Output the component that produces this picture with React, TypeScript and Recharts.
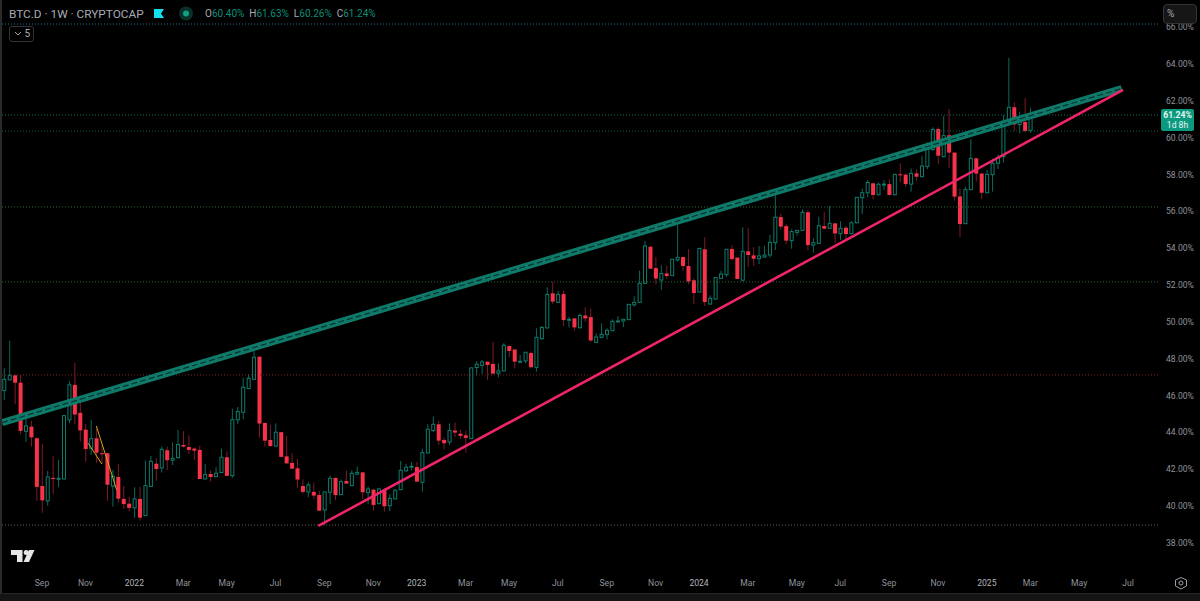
import React from "react";
import { ComposedChart, Bar, XAxis, YAxis, ReferenceLine } from "recharts";

const highs = [
  47.48,48.97,47.12,47.12,45.07,44.62,43.73,43.37,41.91,42.70,
  42.50,44.95,46.78,47.77,45.76,44.46,44.68,44.22,43.32,42.87,
  41.96,42.30,41.09,40.51,41.02,41.04,42.47,42.72,42.59,43.23,
  43.23,43.46,44.13,44.06,43.84,43.19,43.28,42.29,41.93,42.11,
  43.12,42.97,45.29,45.38,46.96,47.17,48.48,48.11,44.53,44.40,
  44.49,44.01,43.81,42.87,42.56,41.45,41.29,41.27,40.82,40.77,
  41.65,41.54,41.45,41.93,41.94,42.14,41.85,41.06,40.93,41.00,
  40.98,40.64,40.91,42.45,42.29,42.38,42.40,43.12,44.44,44.87,
  44.62,43.72,44.49,44.53,44.15,44.10,47.52,47.88,47.93,47.84,
  48.91,47.75,48.84,48.71,48.51,48.21,48.35,48.39,49.65,49.78,
  51.87,52.18,51.69,51.69,50.28,50.19,50.46,50.79,50.72,49.38,
  49.92,49.65,50.14,50.32,50.14,50.97,51.39,52.78,54.39,54.10,
  53.52,53.07,53.05,53.40,55.26,53.54,53.94,52.36,53.99,54.59,
  51.44,52.42,52.78,53.94,54.16,53.50,55.13,55.10,54.05,54.12,
  54.14,54.72,57.00,55.86,55.31,55.02,54.99,56.11,56.07,54.55,
  55.71,55.96,56.29,55.35,55.47,55.20,55.47,56.78,57.23,57.70,
  57.56,57.57,57.70,57.74,58.03,58.61,58.06,58.33,58.28,59.02,
  59.75,60.56,60.56,61.18,61.56,59.20,57.25,57.34,59.91,58.90,
  58.10,58.24,58.86,59.09,61.23,64.33,61.92,61.41,62.14,61.63,
];
const lows = [
  45.76,46.85,45.53,43.90,43.48,43.23,40.28,39.64,40.02,40.66,
  41.04,41.45,44.50,44.46,43.52,42.41,42.78,42.34,42.29,40.28,
  39.97,40.19,39.84,39.72,39.37,39.21,39.46,41.04,41.38,41.82,
  41.96,42.23,42.59,43.19,42.83,42.49,41.47,41.47,41.33,41.56,
  41.78,41.64,41.53,44.46,44.71,46.36,46.85,43.72,43.23,43.23,
  43.23,42.67,42.27,42.01,41.00,40.66,40.48,40.40,39.72,38.97,
  40.11,40.33,40.62,41.20,41.09,41.71,40.39,40.11,39.75,40.11,
  39.70,39.72,40.37,40.87,41.87,41.93,41.31,40.78,42.87,44.01,
  43.32,43.08,43.32,43.75,43.64,42.90,43.64,47.07,47.17,46.85,
  47.17,46.99,47.32,48.08,47.48,47.81,47.75,47.48,47.30,49.02,
  49.65,50.97,51.04,49.78,49.70,49.52,49.65,50.01,48.92,48.87,
  49.11,49.05,49.50,50.01,49.72,50.10,50.83,51.04,52.09,52.87,
  52.04,51.73,52.33,52.49,53.27,52.78,52.04,50.97,51.60,50.86,
  50.93,51.21,52.33,52.45,53.32,52.31,52.24,52.98,53.05,53.14,
  53.47,53.50,53.90,54.99,54.21,53.97,54.68,54.93,53.90,53.76,
  54.23,55.02,55.04,54.26,54.44,54.41,54.75,55.35,55.85,56.76,
  56.65,56.87,57.16,56.87,56.87,57.59,57.32,57.07,57.66,57.85,
  58.30,59.29,58.57,58.93,58.35,56.58,54.61,55.31,57.16,57.61,
  56.65,56.98,57.07,58.30,58.64,60.78,60.38,60.23,60.29,60.26,
];
const opens = [
  46.27,46.85,47.10,46.70,44.06,44.31,43.68,41.09,40.28,41.53,
  41.49,41.47,44.68,46.58,45.06,44.15,43.14,43.68,42.87,42.87,
  41.09,41.58,40.39,40.13,39.90,40.39,39.48,41.06,42.30,42.07,
  43.03,42.49,42.63,43.32,43.21,43.12,43.05,41.47,41.74,41.60,
  41.82,42.65,41.65,44.68,45.09,46.38,46.88,48.11,44.51,43.59,
  43.26,44.01,42.70,42.34,42.05,41.09,40.77,40.77,40.60,39.79,
  40.75,41.53,40.62,41.36,41.11,41.73,41.83,40.73,40.89,40.13,
  40.89,40.02,40.39,40.89,41.91,42.12,42.12,41.29,42.88,44.10,
  44.44,43.59,43.48,44.10,43.93,43.84,43.66,47.52,47.64,47.84,
  47.72,47.21,47.34,48.69,48.50,47.83,47.88,48.31,47.53,49.09,
  49.67,51.55,51.06,51.51,50.12,50.19,49.68,50.35,50.26,48.89,
  49.16,49.32,49.52,50.01,50.05,50.12,50.92,51.06,52.09,54.08,
  52.92,52.27,52.63,52.51,53.36,53.52,53.03,52.26,51.62,53.94,
  50.97,51.24,52.36,52.56,53.96,53.49,52.26,53.83,53.61,53.43,
  53.52,53.63,54.30,55.69,55.20,54.41,54.86,54.97,55.95,54.17,
  54.26,55.20,55.08,55.35,54.79,55.11,54.79,55.38,56.74,57.01,
  57.52,56.90,57.45,57.48,56.90,58.01,57.99,57.48,58.06,57.88,
  58.44,59.35,60.47,58.97,60.13,59.19,56.81,55.33,57.18,58.88,
  58.05,57.01,57.99,58.61,58.97,60.78,61.65,60.71,60.85,60.40,
];
const closes = [
  46.88,47.10,46.70,44.08,44.35,43.73,41.04,40.31,41.58,41.47,
  41.51,44.91,46.58,44.97,44.11,43.10,43.66,42.90,42.85,41.16,
  41.62,40.40,40.11,39.90,40.39,39.37,41.11,42.43,42.01,43.08,
  42.49,42.59,43.34,43.23,43.05,43.01,41.47,41.71,41.58,41.78,
  42.65,41.64,44.69,45.13,46.45,46.94,48.08,44.48,43.55,43.26,
  44.01,42.67,42.32,42.03,41.44,40.77,41.15,40.57,39.75,40.77,
  41.51,40.60,41.33,41.22,41.78,41.83,40.75,40.93,40.06,40.93,
  39.99,40.42,40.86,41.94,42.11,42.16,41.33,42.90,44.17,44.44,
  43.55,43.41,44.10,43.99,43.81,43.70,47.50,47.70,47.83,47.66,
  47.19,47.34,48.73,48.42,47.84,47.86,48.35,47.54,49.16,49.70,
  51.49,51.10,51.49,50.10,50.14,49.70,50.35,50.19,48.99,49.18,
  49.32,49.54,50.03,50.05,50.14,50.95,51.06,52.09,54.12,52.89,
  52.35,52.63,52.49,53.40,53.50,53.03,52.20,51.57,53.99,51.08,
  51.28,52.40,52.60,53.94,53.41,52.33,53.83,53.63,53.43,53.58,
  53.63,54.32,55.68,55.17,54.41,54.90,54.97,55.95,54.17,54.30,
  55.22,55.06,55.35,54.80,55.08,54.77,55.38,56.76,57.01,57.57,
  56.89,57.47,57.48,56.89,58.01,57.97,57.48,58.06,57.88,58.46,
  59.35,60.45,59.02,60.11,59.19,56.80,55.31,57.18,58.88,58.05,
  57.01,58.01,58.61,58.91,60.78,61.65,60.72,60.89,60.36,61.24,
];

const tickIndex = [7,15,24,33,41,50,59,68,76,85,93,102,111,120,128,137,146,154,163,172,181,189,198,207];
const tickLabels = ["Sep","Nov","2022","Mar","May","Jul","Sep","Nov","2023","Mar","May","Jul","Sep","Nov","2024","Mar","May","Jul","Sep","Nov","2025","Mar","May","Jul"];
const priceTicks = [38,40,42,44,46,48,50,52,54,56,58,60,62,64,66];

const dottedLevels = [
  { v: 66.17, c: "#2b6a8a" },
  { v: 61.23, c: "#0e6f60" },
  { v: 60.36, c: "#0e5a4e" },
  { v: 56.24, c: "#2f6b36" },
  { v: 52.17, c: "#2f6b36" },
  { v: 47.12, c: "#7a2020" },
  { v: 38.97, c: "#5a5a5a" },
];

const channelStart = { i: -0.36, v: 44.53 };
const channelEnd = { i: 205.84, v: 62.67 };
const supportStart = { i: 57.88, v: 38.92 };
const supportEnd = { i: 206.08, v: 62.59 };
const yellowA = [{ i: 17.0, v: 44.35 }, { i: 20.75, v: 40.88 }];
const yellowB = [{ i: 15.52, v: 43.41 }, { i: 18.0, v: 42.29 }];

const data = highs.map((h, i) => ({
  i,
  range: [lows[i], h],
  open: opens[i],
  close: closes[i],
  high: h,
  low: lows[i],
}));

const UP_LINE = "#0d7d6c";
const UP_WICK = "#0b6a5c";
const DOWN_BODY = "#f7334a";
const DOWN_WICK = "#801a26";

function Candle(props: any) {
  const { x, y, width, height, payload } = props;
  if (!payload) return null;
  const { open, close, high, low } = payload;
  const k = height / (high - low);
  const up = close >= open;
  const top = y + (high - Math.max(open, close)) * k;
  const bodyH = Math.max(Math.abs(close - open) * k, 1);
  const cx = x + width / 2;
  if (up) {
    return (
      <g>
        <line x1={cx} x2={cx} y1={y} y2={top} stroke={UP_WICK} strokeWidth={1} />
        <line x1={cx} x2={cx} y1={top + bodyH} y2={y + height} stroke={UP_WICK} strokeWidth={1} />
        <rect x={x + 0.5} y={top} width={width - 1} height={bodyH} fill="none" stroke={UP_LINE} strokeWidth={1} />
      </g>
    );
  }
  return (
    <g>
      <line x1={cx} x2={cx} y1={y} y2={y + height} stroke={DOWN_WICK} strokeWidth={1} />
      <rect x={x} y={top} width={width} height={bodyH} fill={DOWN_BODY} />
    </g>
  );
}

function TimeTick(props: any) {
  const { x, y, payload } = props;
  const pos = tickIndex.indexOf(payload.value);
  const label = tickLabels[pos];
  const isYear = /^\d+$/.test(label);
  return (
    <text
      x={x}
      y={y}
      textAnchor="middle"
      dominantBaseline="central"
      fontFamily="Roboto, sans-serif"
      fontSize={8.6}
      fill={isYear ? "#b0b3ba" : "#8f9299"}
    >
      {label}
    </text>
  );
}

const seg = (a: any, b: any) => [{ x: a.i, y: a.v }, { x: b.i, y: b.v }] as any;
const ff = "Roboto, sans-serif";

export default function App() {
  return (
    <div style={{ position: "absolute", left: 0, top: 0, width: 1200, height: 601, background: "#000", overflow: "hidden" }}>
      <ComposedChart width={1200} height={601} data={data} margin={{ top: 0, right: 0, bottom: 0, left: 2 }}>
        <XAxis
          dataKey="i"
          type="number"
          domain={[-0.368, 212.52]}
          allowDataOverflow
          ticks={tickIndex}
          interval={0}
          height={26}
          axisLine={false}
          tickLine={false}
          tickMargin={2}
          tick={<TimeTick />}
        />
        <YAxis
          orientation="right"
          type="number"
          width={42}
          domain={[36.258, 67.474]}
          allowDataOverflow
          ticks={priceTicks}
          interval={0}
          axisLine={false}
          tickLine={false}
          tickMargin={2}
          tickFormatter={(v: number) => v.toFixed(2) + "%"}
          tick={{ fill: "#8f9299", fontSize: 8.6, fontFamily: ff }}
        />
        {dottedLevels.map((d) => (
          <ReferenceLine key={d.v} y={d.v} stroke={d.c} strokeWidth={1} strokeDasharray="1 2" />
        ))}
        <ReferenceLine segment={seg(channelStart, channelEnd)} stroke="#0f7a69" strokeWidth={7} />
        <ReferenceLine segment={seg(channelStart, channelEnd)} stroke="#08332d" strokeWidth={1.2} strokeDasharray="6 3" />
        <ReferenceLine segment={seg(supportStart, supportEnd)} stroke="#f0246b" strokeWidth={2.6} />
        <ReferenceLine segment={seg(yellowA[0], yellowA[1])} stroke="#c9a91c" strokeWidth={1} />
        <ReferenceLine segment={seg(yellowB[0], yellowB[1])} stroke="#c9a91c" strokeWidth={1} />
        <Bar dataKey="range" barSize={4} shape={<Candle />} isAnimationActive={false} />
      </ComposedChart>

      <div style={{ position: "absolute", left: 0, top: 0, width: 1.5, height: 601, background: "#2a2a2a" }} />
      <div style={{ position: "absolute", left: 0, top: 593, width: 1200, height: 8, background: "#141414", borderTop: "1px solid #262626" }} />

      <div style={{ position: "absolute", left: 9, top: 7, fontFamily: ff, fontSize: 11.8, color: "#a8abb2", whiteSpace: "nowrap" }}>
        BTC.D · 1W · CRYPTOCAP
      </div>
      <svg style={{ position: "absolute", left: 150, top: 5 }} width={50} height={20}>
        <polygon points="4,4 14,4 11,8.5 14,13 4,13" fill="#12e0f0" />
        <circle cx={36} cy={8.5} r={7} fill="#0a3029" />
        <circle cx={36} cy={8.5} r={3} fill="#0fa085" />
      </svg>
      <div style={{ position: "absolute", left: 205, top: 8, fontFamily: ff, fontSize: 10, color: "#0b8e78", whiteSpace: "nowrap" }}>
        <span style={{ color: "#a8abb2" }}>O</span>60.40%{" "}
        <span style={{ color: "#a8abb2" }}>&nbsp;H</span>61.63%{" "}
        <span style={{ color: "#a8abb2" }}>&nbsp;L</span>60.26%{" "}
        <span style={{ color: "#a8abb2" }}>&nbsp;C</span>61.24%
      </div>
      <div style={{ position: "absolute", left: 9, top: 26, width: 23, height: 14, border: "1px solid #333", borderRadius: 3, fontFamily: ff, fontSize: 10, color: "#a8abb2", lineHeight: "14px", textAlign: "right", boxSizing: "content-box" }}>
        <svg style={{ position: "absolute", left: 4, top: 4 }} width={8} height={6}>
          <polyline points="1,1 4,4 7,1" fill="none" stroke="#a8abb2" strokeWidth={1} />
        </svg>
        <span style={{ paddingRight: 3 }}>5</span>
      </div>

      <div style={{ position: "absolute", left: 1163, top: 4, width: 34, height: 20, border: "1px solid #333", borderRadius: 4, background: "#161616", fontFamily: ff, fontSize: 10, color: "#a8abb2", lineHeight: "18px", paddingLeft: 3, boxSizing: "border-box" }}>
        %
      </div>

      <div style={{ position: "absolute", left: 1161, top: 109, width: 33, height: 21, background: "#0b9a80", borderRadius: 2, fontFamily: ff, fontSize: 8.6, color: "#e8f5f2", textAlign: "center", lineHeight: "10px", paddingTop: 0.5 }}>
        <div style={{ fontWeight: 700 }}>61.24%</div>
        <div>1d 8h</div>
      </div>

      <svg style={{ position: "absolute", left: 0, top: 545 }} width={40} height={22}>
        <polygon points="11,5 22.5,5 22.5,17 17,17 17,10 11,10" fill="#e6e6e6" />
        <circle cx={26.2} cy={7.5} r={2.5} fill="#e6e6e6" />
        <polygon points="29,5 34.5,5 29,17 23.5,17" fill="#e6e6e6" />
      </svg>

      <svg style={{ position: "absolute", left: 1172, top: 575 }} width={18} height={17}>
        <polygon points="9,2.5 14.5,5 14.5,11 9,14 3.5,11 3.5,5" fill="none" stroke="#9a9da4" strokeWidth={1} />
        <circle cx={9} cy={8} r={2} fill="none" stroke="#9a9da4" strokeWidth={1} />
      </svg>
    </div>
  );
}
